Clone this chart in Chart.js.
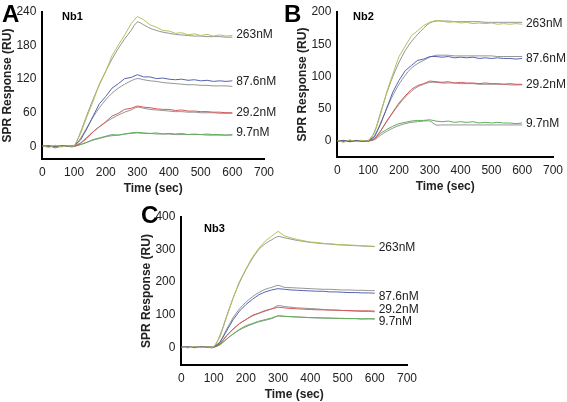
<!DOCTYPE html>
<html><head><meta charset="utf-8">
<script src="https://cdn.jsdelivr.net/npm/chart.js@4"></script>
<style>
body{margin:0;width:567px;height:402px;background:#fff;position:relative;overflow:hidden;font-family:Arial,"Liberation Sans",sans-serif}
.c{position:absolute}
.L{position:absolute;font-weight:bold;font-size:24px;line-height:24px}
.N{position:absolute;font-weight:bold;font-size:11px}
</style></head><body>
<div class="c" style="left:0;top:0;width:280px;height:196px"><canvas id="ca"></canvas></div>
<div class="c" style="left:295px;top:0;width:272px;height:194px"><canvas id="cb"></canvas></div>
<div class="c" style="left:139px;top:205px;width:290px;height:197px"><canvas id="cc"></canvas></div>
<div class="L" style="left:2px;top:2px">A</div>
<div class="L" style="left:284px;top:2px">B</div>
<div class="L" style="left:141px;top:203px">C</div>
<div class="N" style="left:62px;top:10px">Nb1</div>
<div class="N" style="left:353px;top:10px">Nb2</div>
<div class="N" style="left:204px;top:222px">Nb3</div>
<script>
const times=[0,20,40,60,80,100,120,140,160,180,200,220,240,260,280,300,320,340,360,380,400,420,440,460,480,500,520,540,560,580,600];
const concLabels=['263nM','87.6nM','29.2nM','9.7nM'];
const colors=['#b5c25a','#5563b0','#d35a5a','#5fae5a'];
// Panel A
const a263=[1,-2,2,-1,1,0,22,52,80,112,134,162,181,199,219,232,226,217,213,207,206,202,203,199,201,198,200,197,199,197,198];
const a263f=[0,0,0,0,0,0,25,55,84,110,134,156,175,192,207,222,217,211,207,204,202,200,199,198,197,197,196,196,196,195,195];
const a88=[0,1,-1,1,0,1,11,31,54,76,89,104,112,121,123,128,124,124,121,122,120,119,120,118,119,117,118,116,117,116,117];
const a88f=[0,0,0,0,0,0,14,33,52,69,83,95,104,111,117,121,119,117,116,114,113,112,111,110,110,109,109,108,108,108,107];
const a29=[0,-1,1,0,1,0,5,14,26,35,44,54,59,66,68,72,70,69,67,66,66,64,65,63,63,62,62,61,61,60,60];
const a29f=[0,0,0,0,0,0,6,16,26,35,43,50,56,61,65,70,68,66,65,64,63,62,62,61,61,60,60,60,59,59,59];
const a10=[0,1,-3,0,1,0,3,7,12,15,18,21,20,22,24,25,24,23,24,22,23,22,23,21,22,21,22,21,21,20,21];
const a10f=[0,0,0,0,0,0,3,7,11,14,17,19,20,22,23,24,23,23,22,22,22,21,21,21,21,21,20,20,20,20,20];
const aLabelY=[200,115,60,24];
// Panel B
const b263=[1,-2,2,-1,1,0,12,41,76,104,131,147,163,171,179,184,187,186,184,185,183,184,182,183,182,183,181,182,181,182,181];
const b263f=[0,0,0,0,0,0,14,44,74,100,122,140,154,165,175,183,186,186,186,185,185,185,185,185,184,184,184,184,184,184,184];
const b88=[0,1,-1,1,0,1,6,26,51,76,94,109,117,125,127,131,131,130,131,129,130,129,130,128,129,128,129,128,128,127,128];
const b88f=[0,0,0,0,0,0,8,28,50,71,88,102,113,120,125,130,133,133,133,132,132,132,132,132,132,132,131,131,131,131,131];
const b29=[0,-1,1,0,1,0,3,15,31,45,59,70,80,86,89,93,92,91,92,90,91,90,90,89,90,89,89,88,89,88,88];
const b29f=[0,0,0,0,0,0,4,16,30,44,57,68,77,84,88,91,91,90,90,90,89,89,89,88,88,88,88,88,87,87,87];
const b10=[0,1,-1,0,1,0,3,12,18,23,27,29,31,32,32,33,31,30,31,29,30,29,30,28,29,28,29,28,28,27,28];
const b10f=[0,0,0,0,0,0,2,9,15,20,24,27,29,30,31,31,25,25,25,25,25,25,25,25,25,25,25,25,25,25,25];
const bLabelY=[182,127,88,27];
// Panel C
const c263=[1,-2,2,-1,1,0,32,92,150,202,240,276,304,326,341,356,342,336,331,327,323,322,319,318,316,315,314,313,312,311,310];
const c263f=[0,0,0,0,0,0,38,95,150,198,238,272,300,318,330,340,336,332,328,325,322,320,318,317,315,314,313,312,311,310,309];
const c88=[0,1,-1,1,0,1,15,50,84,111,131,147,161,170,176,180,178,176,175,174,173,172,172,170,170,169,168,168,167,167,166];
const c88f=[0,0,0,0,0,0,18,55,90,118,138,155,168,178,184,190,184,183,182,181,180,179,178,178,177,176,176,175,175,174,174];
const c29=[0,-1,1,0,1,0,10,35,55,73,85,98,105,113,118,123,121,119,118,117,116,115,115,114,114,113,113,112,112,112,111];
const c29f=[0,0,0,0,0,0,12,36,56,72,85,96,104,111,118,128,125,123,121,120,119,118,116,115,114,113,112,111,110,110,109];
const c10=[0,1,-1,0,1,0,8,25,41,55,66,73,80,85,90,97,95,94,93,92,91,91,90,90,89,89,88,88,87,88,87];
const c10f=[0,0,0,0,0,0,8,25,40,53,63,71,78,83,88,96,95,94,93,92,91,90,90,89,89,88,88,88,87,87,87];
const cLabelY=[305,155,115,80];
const xTicks=[0,100,200,300,400,500,600,700];

function pts(arr){return arr.map((v,i)=>({x:times[i],y:v}));}
const labelPlugin={id:'concl',afterDatasetsDraw(ch,args,opt){
  const ctx=ch.ctx,xs=ch.scales.x,ys=ch.scales.y;ctx.save();
  ctx.font='12px Arial, "Liberation Sans", sans-serif';ctx.fillStyle='#222';ctx.textBaseline='middle';
  opt.ys.forEach((v,i)=>ctx.fillText(concLabels[i],xs.getPixelForValue(612),ys.getPixelForValue(v)));
  ctx.restore();}};
function make(id,series,ymin,ymax,yTicks,labelY,padR){
  const ds=[];
  series.forEach((s,i)=>{
    ds.push({data:pts(s[0]),borderColor:colors[i],borderWidth:1,pointRadius:0,tension:0});
    ds.push({data:pts(s[1]),borderColor:'#666',borderWidth:0.7,pointRadius:0,tension:0.3});
  });
  const f={family:'Arial, "Liberation Sans", sans-serif',size:12};
  new Chart(document.getElementById(id),{type:'line',data:{datasets:ds},plugins:[labelPlugin],
    options:{responsive:true,maintainAspectRatio:false,animation:false,
      layout:{padding:{top:12,right:padR,left:0,bottom:0}},
      plugins:{legend:{display:false},tooltip:{enabled:false},concl:{ys:labelY}},
      scales:{
        x:{type:'linear',min:0,max:700,grid:{display:false,drawTicks:true,tickLength:4,tickColor:'#000'},
          border:{color:'#000',width:2},afterBuildTicks:s=>{s.ticks=xTicks.map(v=>({value:v}));},
          ticks:{color:'#222',font:f,maxRotation:0,padding:2},
          title:{display:true,text:'Time (sec)',font:{...f,weight:'bold'},color:'#222',padding:0}},
        y:{min:ymin,max:ymax,grid:{display:false,tickLength:4,tickColor:'#000'},border:{color:'#000',width:2},
          afterBuildTicks:s=>{s.ticks=yTicks.map(v=>({value:v}));},
          ticks:{color:'#222',font:f,padding:2},
          title:{display:true,text:'SPR Response (RU)',font:{...f,weight:'bold'},color:'#222',padding:0}}
      }}});
}
make('ca',[[a263,a263f],[a88,a88f],[a29,a29f],[a10,a10f]],-23,240,[0,60,120,180,240],aLabelY,16);
make('cb',[[b263,b263f],[b88,b88f],[b29,b29f],[b10,b10f]],-25,200,[0,50,100,150,200],bLabelY,14);
make('cc',[[c263,c263f],[c88,c88f],[c29,c29f],[c10,c10f]],-55,400,[0,100,200,300,400],cLabelY,22);
</script></body></html>
